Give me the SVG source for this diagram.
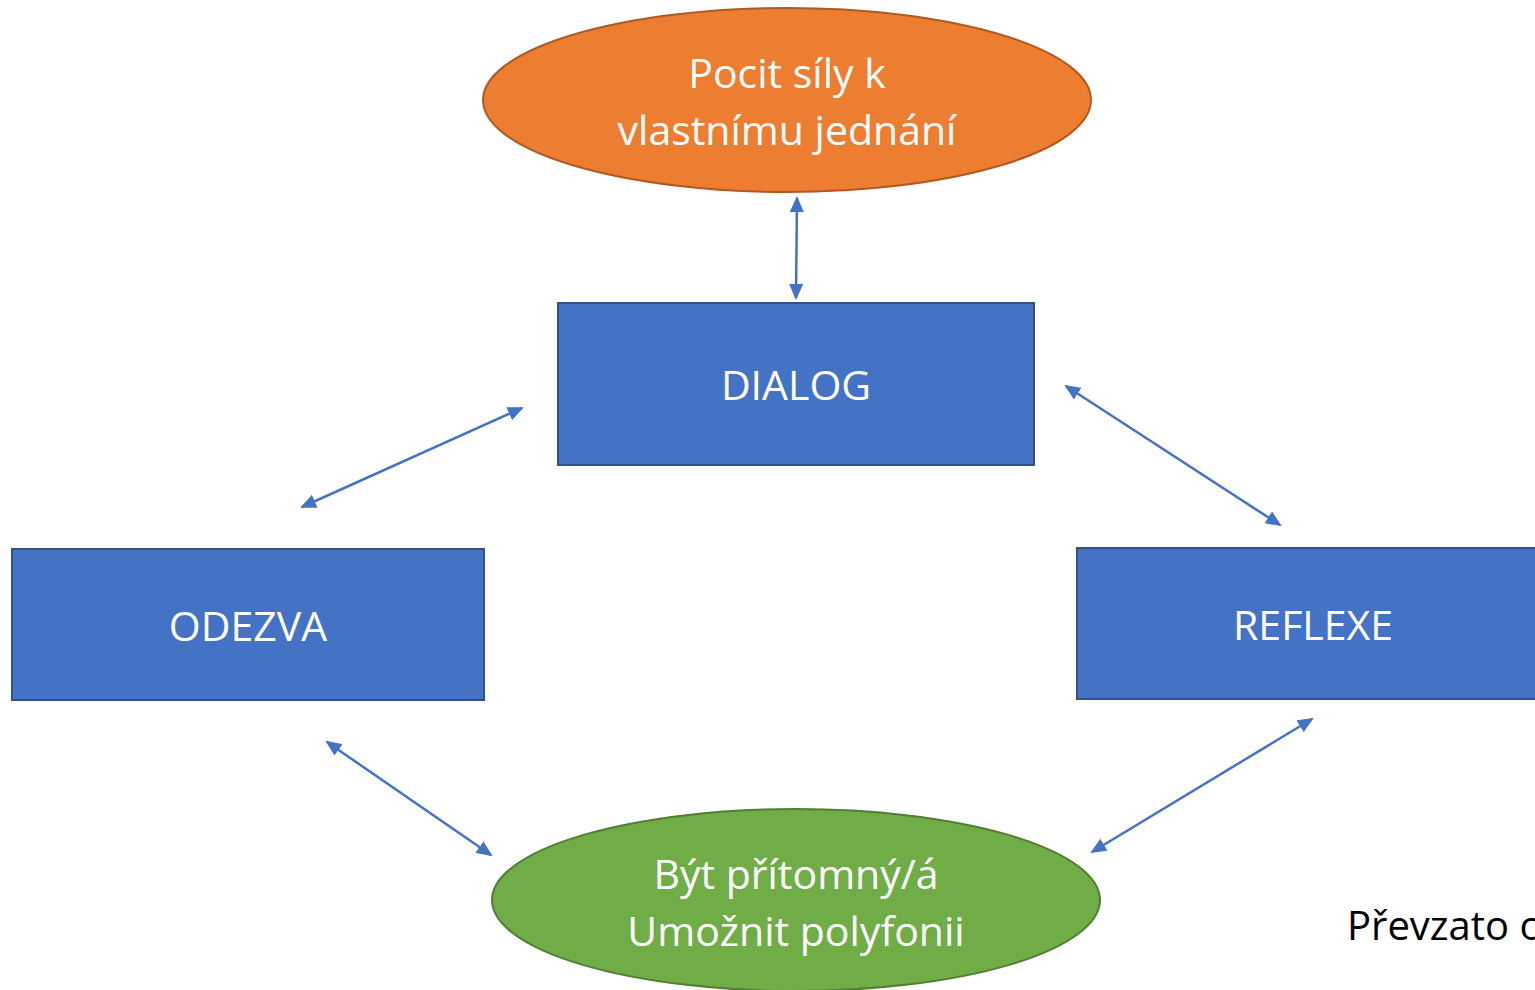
<svg xmlns="http://www.w3.org/2000/svg" width="1535" height="990" viewBox="0 0 1535 990">
<style>
.t{font-family:"Open Sans","Noto Sans","Liberation Sans",sans-serif;font-size:41px;fill:#fff;text-anchor:middle}
.box{fill:#4472C4;stroke:#2F528F;stroke-width:2}
.c{stroke:#4472C4;stroke-width:2.5;fill:none;marker-start:url(#a);marker-end:url(#a)}
</style>
<defs>
<marker id="a" viewBox="0 0 16 14" refX="14" refY="7" markerWidth="16" markerHeight="14" markerUnits="userSpaceOnUse" orient="auto-start-reverse">
<path d="M0,0 L16,7 L0,14 Z" fill="#4472C4"/>
</marker>
</defs>
<rect width="1535" height="990" fill="#fff"/>
<g id="connectors">
<line class="c" x1="797" y1="198" x2="796" y2="298"/>
<line class="c" x1="522" y1="408" x2="302" y2="507"/>
<line class="c" x1="1066" y1="386" x2="1280" y2="525"/>
<line class="c" x1="327" y1="742" x2="491" y2="855"/>
<line class="c" x1="1312" y1="719" x2="1092" y2="852"/>
</g>
<g id="pocit">
<ellipse cx="787" cy="100" rx="304" ry="92" fill="#ED7D31" stroke="#AE5A21" stroke-width="2"/>
<text class="t" x="787" y="88">Pocit síly k</text>
<text class="t" x="787" y="145">vlastnímu jednání</text>
</g>
<g id="dialog">
<rect class="box" x="558" y="303" width="476" height="162"/>
<text class="t" x="796" y="400">DIALOG</text>
</g>
<g id="odezva">
<rect class="box" x="12" y="549" width="472" height="151"/>
<text class="t" x="248" y="641">ODEZVA</text>
</g>
<g id="reflexe">
<rect class="box" x="1077" y="548" width="470" height="151"/>
<text class="t" x="1313" y="640">REFLEXE</text>
</g>
<g id="byt">
<ellipse cx="796" cy="900" rx="304" ry="91" fill="#70AD47" stroke="#507E32" stroke-width="2"/>
<text class="t" x="796" y="889">Být přítomný/á</text>
<text class="t" x="796" y="946">Umožnit polyfonii</text>
</g>
<text x="1347" y="940" style="font-family:'Open Sans','Noto Sans','Liberation Sans',sans-serif;font-size:40px;fill:#000">Převzato o</text>
</svg>
